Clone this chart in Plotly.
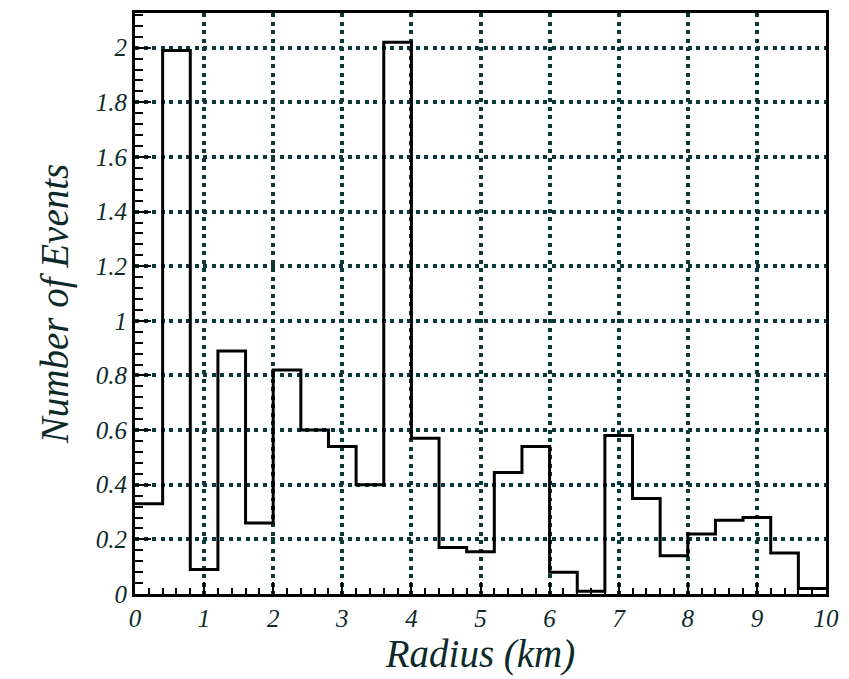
import plotly.graph_objects as go

# Histogram of event counts vs. radius, 0.4 km bins from 0 to 10 km
bin_edges = [0.0, 0.4, 0.8, 1.2, 1.6, 2.0, 2.4, 2.8, 3.2, 3.6, 4.0, 4.4, 4.8,
             5.2, 5.6, 6.0, 6.4, 6.8, 7.2, 7.6, 8.0, 8.4, 8.8, 9.2, 9.6, 10.0]
counts = [0.33, 1.99, 0.09, 0.89, 0.26, 0.82, 0.60, 0.54, 0.40, 2.02, 0.57, 0.17,
          0.155, 0.445, 0.54, 0.08, 0.01, 0.58, 0.35, 0.14, 0.22, 0.27, 0.28, 0.15, 0.02]
x_ticks = [0, 1, 2, 3, 4, 5, 6, 7, 8, 9, 10]
y_ticks = [0, 0.2, 0.4, 0.6, 0.8, 1.0, 1.2, 1.4, 1.6, 1.8, 2.0]
y_tick_text = ["0", "0.2", "0.4", "0.6", "0.8", "1", "1.2", "1.4", "1.6", "1.8", "2"]

ink = "#0d2a2a"
grid = "#0b3838"
font_family = "Liberation Serif, Times New Roman, serif"

# step outline: each bin's level held until the next edge
step_x = bin_edges[:-1] + [bin_edges[-1]]
step_y = counts + [counts[-1]]

fig = go.Figure()
fig.add_trace(go.Scatter(
    x=step_x, y=step_y, mode="lines", line_shape="hv",
    line=dict(color="#000000", width=3), showlegend=False, hoverinfo="skip"))

axis_common = dict(
    showline=True, linecolor="#000000", linewidth=3, mirror=True,
    ticks="inside", tickcolor="#000000", tickwidth=2,
    showgrid=True, gridcolor=grid, gridwidth=3.5, griddash="4px,4.5px",
    zeroline=False,
    tickfont=dict(family=font_family, size=25, color=ink, style="italic"),
)

title_font = dict(family=font_family, size=39, color=ink, style="italic")

fig.update_xaxes(
    **axis_common,
    range=[0, 10], tickvals=x_ticks, ticklen=12,
    minor=dict(dtick=0.2, tick0=0, ticks="inside", ticklen=6,
               tickcolor="#000000", tickwidth=2, showgrid=False),
    title=dict(text="Radius (km)", standoff=8, font=title_font),
)
fig.update_yaxes(
    **axis_common,
    range=[0, 2.127], tickvals=y_ticks, ticktext=y_tick_text, ticklen=16,
    minor=dict(dtick=0.04, tick0=0, ticks="inside", ticklen=8,
               tickcolor="#000000", tickwidth=2, showgrid=False),
    title=dict(text="Number of Events", standoff=16, font=title_font),
)

fig.update_layout(
    width=849, height=679,
    margin=dict(l=135, r=19, t=10, b=85),
    paper_bgcolor="#ffffff", plot_bgcolor="#ffffff",
)

fig.write_html("out.html")
